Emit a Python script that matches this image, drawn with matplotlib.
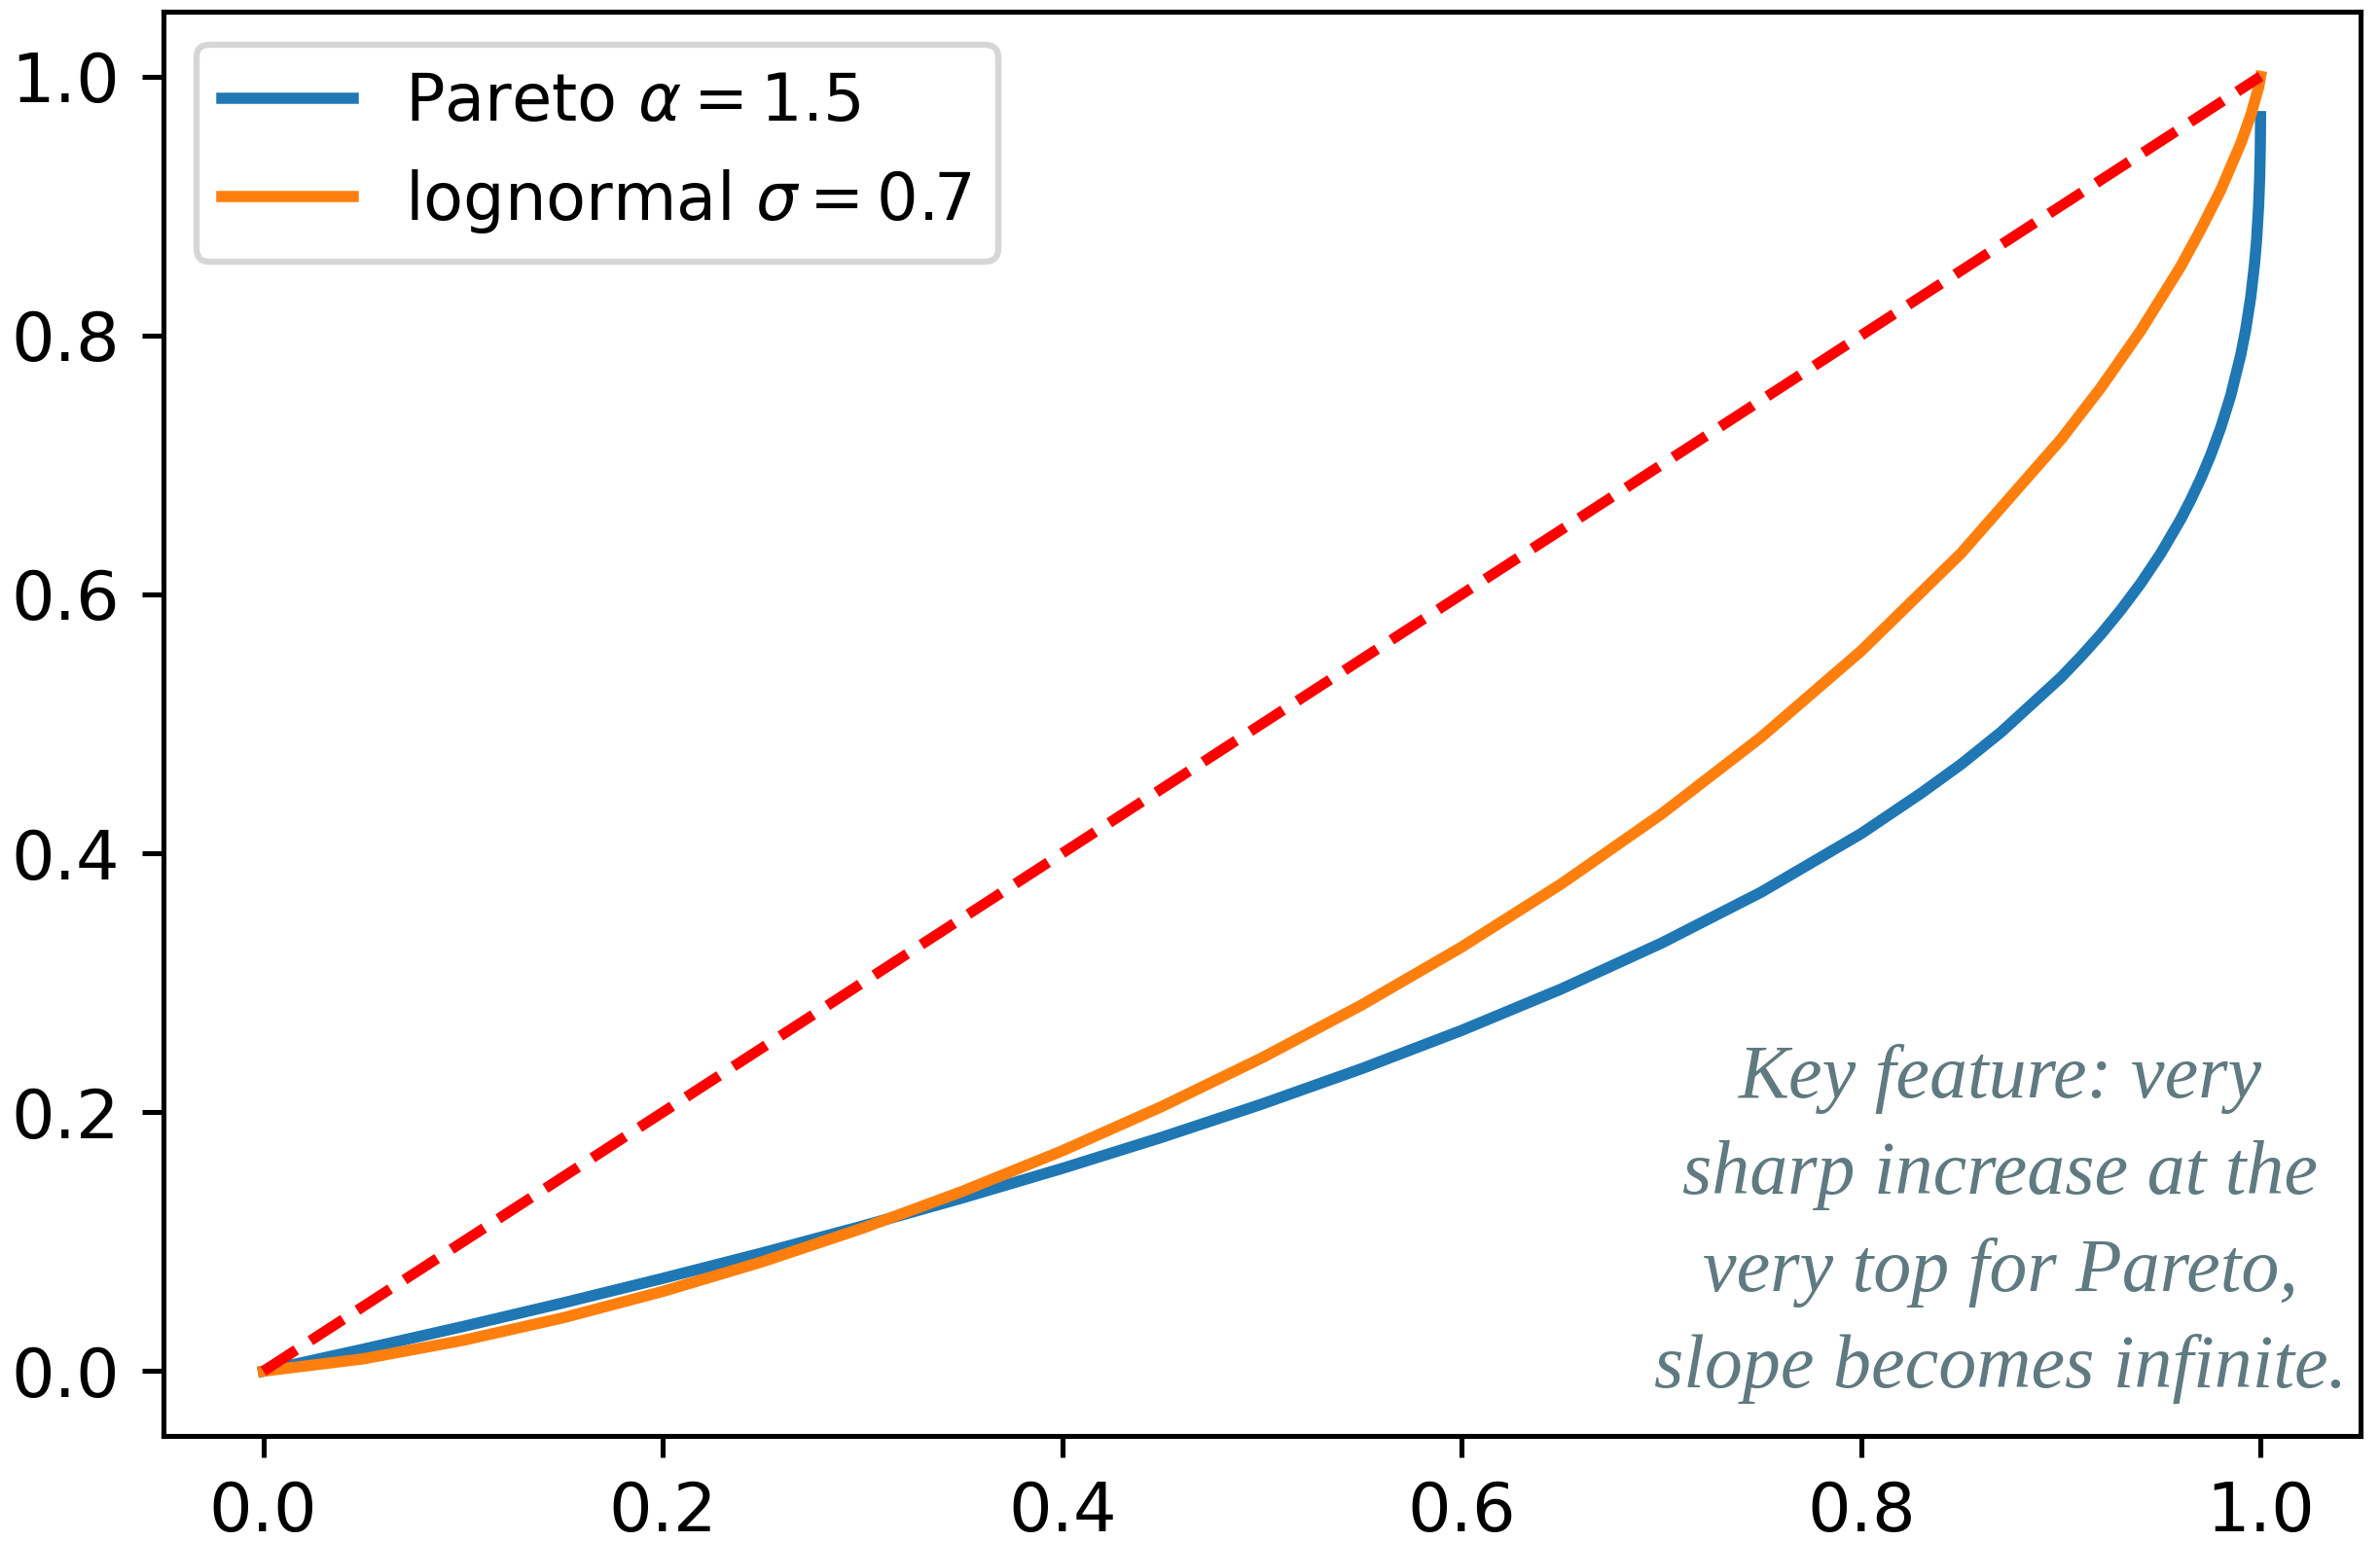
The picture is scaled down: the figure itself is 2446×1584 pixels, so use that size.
import matplotlib
matplotlib.use("Agg")
import matplotlib.pyplot as plt

# Pareto alpha=1.5 Lorenz curve
pareto_x = [0.0, 0.05, 0.1, 0.15, 0.2, 0.25, 0.3, 0.35, 0.4, 0.45, 0.5, 0.55, 0.6,
            0.65, 0.7, 0.75, 0.8, 0.83, 0.85, 0.87, 0.9, 0.91, 0.92, 0.93, 0.94, 0.95,
            0.96, 0.965, 0.97, 0.975, 0.98, 0.985, 0.99, 0.9925, 0.995, 0.997, 0.998,
            0.999, 0.9995, 0.9998, 0.9999, 0.99997]
pareto_y = [0.0, 0.017, 0.0345, 0.0527, 0.0717, 0.0914, 0.1121, 0.1338, 0.1566, 0.1807,
            0.2063, 0.2337, 0.2632, 0.2953, 0.3306, 0.370, 0.4152, 0.4464, 0.4687, 0.4935,
            0.5358, 0.5519, 0.5691, 0.5879, 0.6085, 0.6316, 0.658, 0.6729, 0.6893,
            0.7076, 0.7286, 0.7534, 0.7846, 0.8043, 0.829, 0.8558, 0.874, 0.90, 0.9206,
            0.9415, 0.9536, 0.969]

# lognormal sigma=0.7 Lorenz curve
logn_x = [0.0, 0.05, 0.1, 0.15, 0.2, 0.25, 0.3, 0.35, 0.4, 0.45, 0.5, 0.55, 0.6,
          0.65, 0.7, 0.75, 0.8, 0.85, 0.9, 0.92, 0.94, 0.96, 0.97, 0.98, 0.99, 0.995,
          0.999, 1.0]
logn_y = [0.0, 0.0095, 0.0238, 0.0412, 0.0616, 0.0846, 0.1104, 0.1389, 0.1702, 0.2045,
          0.2420, 0.2829, 0.3276, 0.3765, 0.4303, 0.4898, 0.5563, 0.6317, 0.7196,
          0.7596, 0.8037, 0.8533, 0.8817, 0.9121, 0.9481, 0.9697, 0.9916, 1.0]

equality_x = [0.0, 1.0]
equality_y = [0.0, 1.0]

labels = [r"Pareto $\alpha=1.5$", r"lognormal $\sigma=0.7$"]
note = "Key feature: very\nsharp increase at the\nvery top for Pareto,\nslope becomes infinite."

fig = plt.figure(figsize=(2446 / 460, 1584 / 460), dpi=460)
ax = fig.add_axes([0.0687, 0.0682, 0.9918 - 0.0687, 0.9924 - 0.0682])

ax.plot(pareto_x, pareto_y, color="#1f77b4", lw=1.8, label=labels[0])
ax.plot(logn_x, logn_y, color="#ff7f0e", lw=1.8, label=labels[1])
ax.plot(equality_x, equality_y, "r--", lw=1.7)

ax.set_xticks([0.0, 0.2, 0.4, 0.6, 0.8, 1.0])
ax.set_yticks([0.0, 0.2, 0.4, 0.6, 0.8, 1.0])
ax.tick_params(labelsize=11)
ax.legend(loc="upper left", fontsize=10.5)

ax.text(0.836, 0.149, note, transform=ax.transAxes, ha="center", va="center",
        multialignment="center", family="Liberation Serif", style="italic",
        fontsize=12.2, color="#5f7a80", linespacing=1.5)

fig.savefig("out.png", dpi=460)
